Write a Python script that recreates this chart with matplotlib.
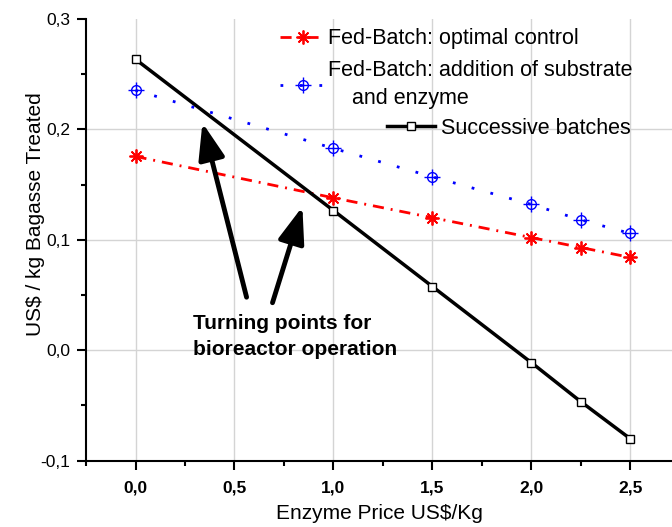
import matplotlib.pyplot as plt
import numpy as np
from matplotlib.ticker import MultipleLocator, FuncFormatter

plt.rcParams['font.family'] = ['Liberation Sans', 'DejaVu Sans']

# data
preco = [0.0, 1.0, 1.5, 2.0, 2.25, 2.5]
otimo = [0.1755, 0.138, 0.120, 0.102, 0.093, 0.084]
adicao = [0.2354, 0.1828, 0.157, 0.132, 0.118, 0.1057]
sucessivas = [0.2635, 0.1265, 0.0576, -0.0113, -0.0467, -0.0803]

fig = plt.figure(figsize=(6.72, 5.27), dpi=100)
ax = fig.add_axes([0.128, 0.126, 0.872, 0.838])

for x in np.arange(0, 2.51, 0.5):
    ax.axvline(x, color='#d4d4d4', lw=1.0, zorder=0)
for y in [0.0, 0.1, 0.2]:
    ax.axhline(y, color='#d4d4d4', lw=1.0, zorder=0)

l1, = ax.plot(preco, otimo, color='red', lw=2, ls=(0, (4, 2.5, 0.7, 2.5)),
              marker=(8, 2, 0), ms=10, mew=1.3, zorder=3)
l2, = ax.plot(preco, adicao, color='blue', lw=2, ls=(0, (1, 6)),
              marker='o', ms=7, mfc='none', mew=1.0, zorder=3)
l2b, = ax.plot(preco, adicao, color='blue', ls='none', marker='+', ms=11, mew=1.0, zorder=3)
l3, = ax.plot(preco, sucessivas, color='black', lw=2.5, marker='s', ms=5.5,
              mfc='white', mec='black', mew=1.0, zorder=4)

ax.set_xlim(-0.25, 2.71)
ax.set_ylim(-0.1, 0.3)

for s in ['top', 'right']:
    ax.spines[s].set_visible(False)
for s in ['left', 'bottom']:
    ax.spines[s].set_linewidth(1.5)

ax.xaxis.set_major_locator(MultipleLocator(0.5))
ax.xaxis.set_minor_locator(MultipleLocator(0.25))
ax.yaxis.set_major_locator(MultipleLocator(0.1))
ax.yaxis.set_minor_locator(MultipleLocator(0.05))
virgula = FuncFormatter(lambda v, p: ('%.1f' % v).replace('.', ',').replace('-0,0', '0,0'))
ax.xaxis.set_major_formatter(virgula)
ax.yaxis.set_major_formatter(virgula)
ax.tick_params(which='major', direction='out', length=6.5, width=1.5, labelsize=12.5)
ax.tick_params(which='minor', direction='out', length=3.5, width=1.5)
ax.tick_params(axis='x', pad=8)
ax.tick_params(axis='y', pad=5)
for t in ax.get_xticklabels():
    t.set_fontweight('bold')

ax.set_xlabel('Enzyme Price US$/Kg', fontsize=15, labelpad=6)
ax.set_ylabel('US$ / kg Bagasse Treated', fontsize=15)
ax.yaxis.set_label_coords(-0.07, 0.558)

# setas e texto
ax.annotate('', xy=(0.338, 0.206), xytext=(0.561, 0.048),
            arrowprops=dict(arrowstyle='-|>,head_length=1.1,head_width=0.4',
                            lw=3.5, color='black', mutation_scale=20, shrinkA=0, shrinkB=0))
ax.annotate('', xy=(0.843, 0.130), xytext=(0.692, 0.043),
            arrowprops=dict(arrowstyle='-|>,head_length=1.1,head_width=0.4',
                            lw=3.5, color='black', mutation_scale=20, shrinkA=0, shrinkB=0))
ax.text(0.288, 0.033, 'Turning points for\nbioreactor operation', fontsize=15,
        fontweight='bold', va='top', ha='left', linespacing=1.45)

leg1 = ax.legend([l1, (l2, l2b)],
                 ['Fed-Batch: optimal control',
                  'Fed-Batch: addition of substrate\n    and enzyme'],
                 loc='upper left', bbox_to_anchor=(0.331, 0.979), frameon=False,
                 fontsize=15.5, handlelength=2.1, handletextpad=0.15,
                 borderpad=0, borderaxespad=0, labelspacing=0.5, numpoints=1)
for t in leg1.get_texts():
    t.set_linespacing(1.45)
ax.add_artist(leg1)
ax.legend([l3], ['Successive batches'], loc='upper left',
          bbox_to_anchor=(0.514, 0.776), frameon=False, fontsize=15.5,
          handlelength=2.2, handletextpad=0.3, borderpad=0, borderaxespad=0,
          numpoints=1)

fig.savefig('out.png', dpi=100)
